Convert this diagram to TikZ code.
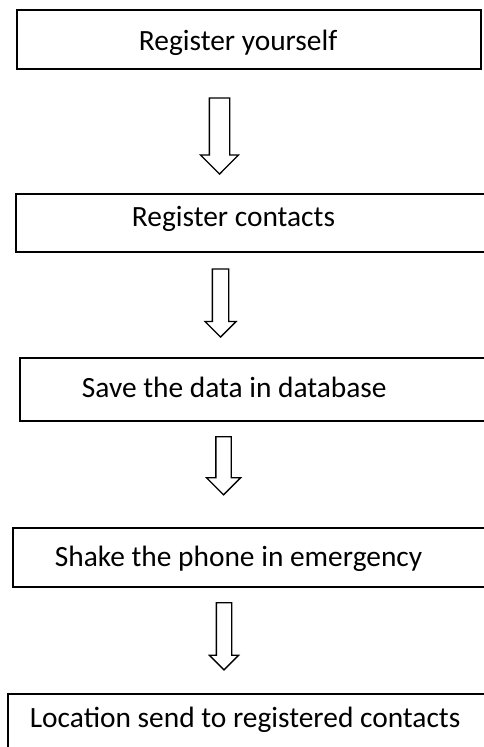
\documentclass[tikz,border=0pt]{standalone}
\usepackage{fontspec}
\setmainfont{Carlito}
\usepackage{tikz}
\usetikzlibrary{shapes.arrows}
\tikzset{every picture/.style={line width=1.8pt}}
\tikzset{
  stepbox/.style={draw, rectangle, inner sep=0pt},
  steptext/.style={anchor=base west, inner sep=0pt, font=\fontsize{29.4}{35}\selectfont},
  blockarrow/.style={draw, single arrow, shape border rotate=270, line width=1.3pt}
}

\begin{document}
\begin{tikzpicture}[x=1pt,y=1pt,yscale=-1,xscale=1]
    \clip (0,0) rectangle (484,747);
    \fill[white] (0,0) rectangle (484,747);
    % steps
    \node [stepbox, minimum width=464, minimum height=59] (reg) at (249,39.5) {};
    \node [stepbox, minimum width=470, minimum height=58] (cont) at (251,223) {};
    \node [stepbox, minimum width=466, minimum height=63] (save) at (253,389.5) {};
    \node [stepbox, minimum width=473, minimum height=59] (shake) at (249.5,557.5) {};
    \node [stepbox, minimum width=478, minimum height=66] (loc) at (247,727) {};
    \node [steptext] (regt) at (138,50) {Register yourself};
    \node [steptext] (contt) at (131,226) {Register contacts};
    \node [steptext] (savet) at (81,397) {Save the data in database};
    \node [steptext] (shaket) at (54,566) {Shake the phone in emergency};
    \node [steptext] (loct) at (29,727) {Location send to registered contacts};
    % arrows
    \node [blockarrow, minimum height=76, inner sep=9.5, single arrow head extend=9] (a1) at (219.5,131) {};
    \node [blockarrow, minimum height=68, inner sep=7.5, single arrow head extend=7.5] (a2) at (220.5,299) {};
    \node [blockarrow, minimum height=58, inner sep=7, single arrow head extend=9.5] (a3) at (223.5,462) {};
    \node [blockarrow, minimum height=67, inner sep=7, single arrow head extend=7] (a4) at (224,632.5) {};
\end{tikzpicture}
\end{document}
